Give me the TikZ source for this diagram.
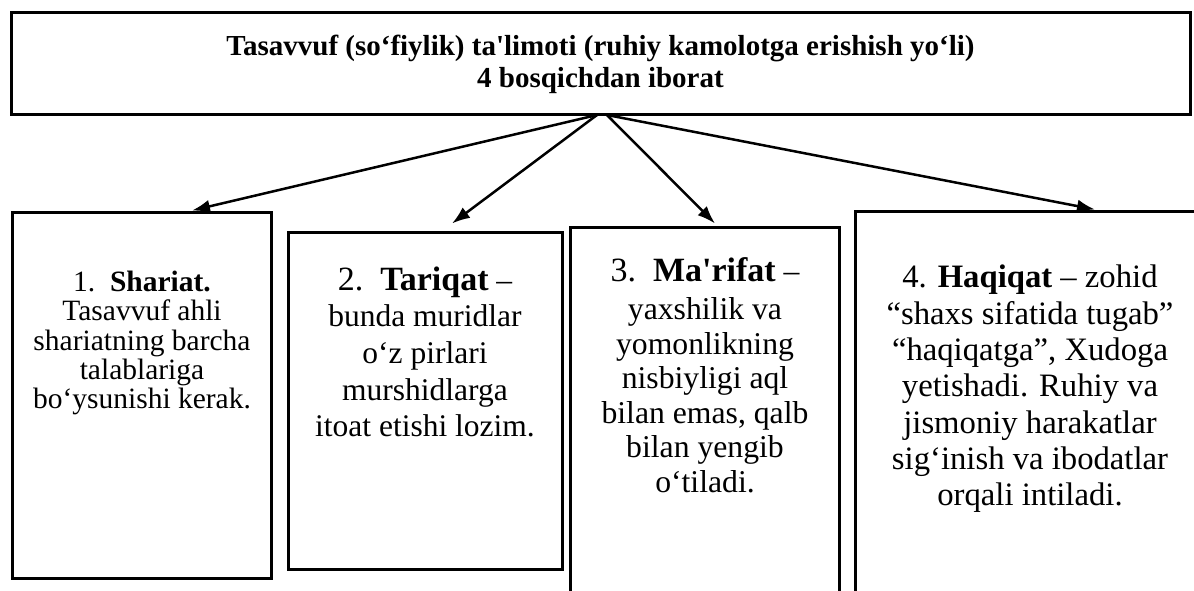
\documentclass[tikz,border=0pt]{standalone}
\usepackage{fontspec}
\setmainfont{Liberation Serif}
\usetikzlibrary{arrows.meta,positioning}

\begin{document}
\begin{tikzpicture}[x=1pt,y=-1pt,
    box/.style={draw,line width=3pt,inner sep=0pt},
    txt/.style={align=center,inner sep=0pt},
    arr/.style={line width=2.5pt,-{Latex[length=18pt,width=13pt]}}]
  \useasboundingbox (0,0) rectangle (1194,591);
  \clip (0,0) rectangle (1194,591);

  % title
  \node[box,minimum width=1179pt,minimum height=102pt,align=center,
        font=\fontsize{29}{32}\selectfont\bfseries] (top) at (600.5,64)
        {Tasavvuf (so‘fiylik) ta\textquotesingle limoti (ruhiy kamolotga erishish yo‘li)\\4 bosqichdan iborat};

  % stages
  \node[box,minimum width=259pt,minimum height=366pt] (s1) at (141.5,395) {};
  \node[box,minimum width=274pt,minimum height=337pt] (s2) at (425,400.5) {};
  \node[box,minimum width=269pt,minimum height=400pt] (s3) at (704.5,427) {};
  \node[box,minimum width=360pt,minimum height=400pt] (s4) at (1035,411) {};

  \node[txt,font=\fontsize{29.5}{29.3}\selectfont] (t1) at (142,343)
    {1.\ \ \textbf{Shariat.}\\Tasavvuf ahli\\shariatning barcha\\talablariga\\bo‘ysunishi kerak.};
  \node[txt,font=\fontsize{31.5}{36.7}\selectfont] (t2) at (425,352)
    {{\fontsize{34}{37}\selectfont 2.\ \ \textbf{Tariqat}} –\\bunda muridlar\\o‘z pirlari\\murshidlarga\\itoat etishi lozim.};
  \node[txt,font=\fontsize{31.7}{34.5}\selectfont] (t3) at (705,375)
    {{\fontsize{34}{37}\selectfont 3.\ \ \textbf{Ma\textquotesingle rifat}} –\\[4pt]yaxshilik va\\yomonlikning\\nisbiyligi aql\\bilan emas, qalb\\bilan yengib\\o‘tiladi.};
  \node[txt,font=\fontsize{32.7}{36.3}\selectfont] (t4) at (1030,389)
    {4. \textbf{Haqiqat} – zohid\\“shaxs sifatida tugab”\\“haqiqatga”, Xudoga\\yetishadi. Ruhiy va\\jismoniy harakatlar\\sig‘inish va ibodatlar\\orqali intiladi.};

  % arrows
  \coordinate (o1) at ([xshift=-3.5pt,yshift=1.5pt]top.south);
  \coordinate (o2) at ([xshift=6.5pt,yshift=1.5pt]top.south);
  \draw[arr] (o1) -- ([xshift=50.5pt]s1.north);
  \draw[arr] (o1) -- ([xshift=27pt,yshift=7pt]s2.north);
  \draw[arr] (o2) -- ([xshift=10.5pt,yshift=2pt]s3.north);
  \draw[arr] (o2) -- ([xshift=60pt]s4.north);
\end{tikzpicture}
\end{document}
